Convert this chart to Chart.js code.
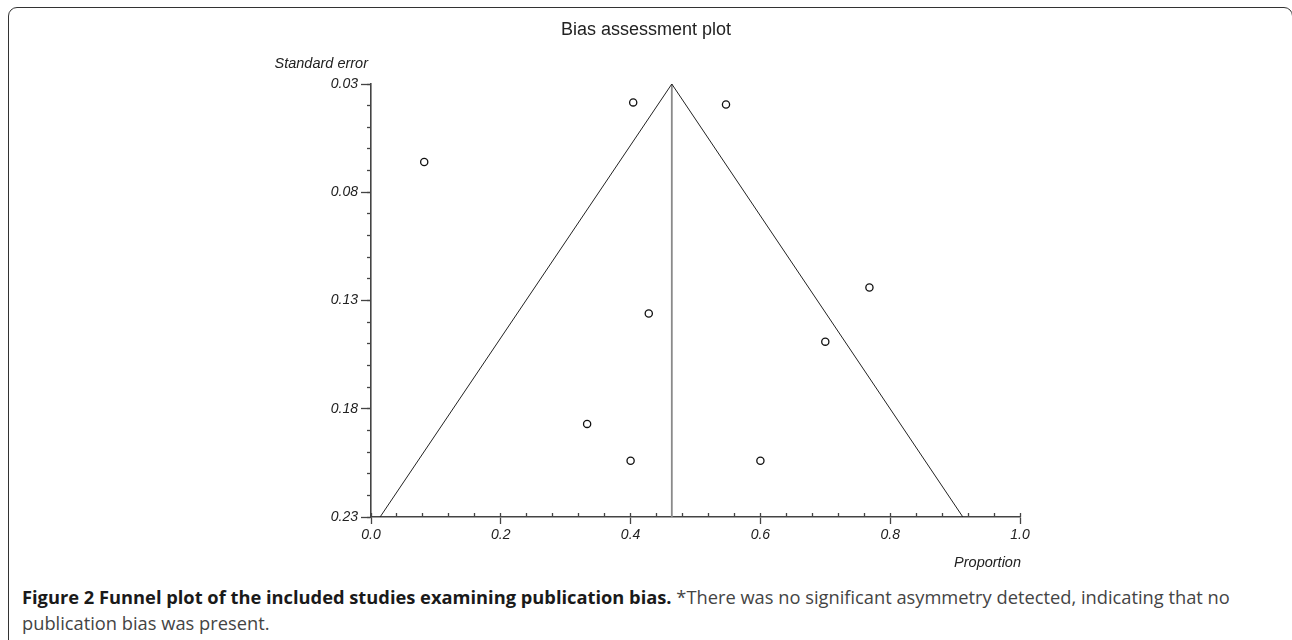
<!DOCTYPE html>
<html>
<head>
<meta charset="utf-8">
<script src="https://cdn.jsdelivr.net/npm/chart.js@4.4.1/dist/chart.umd.min.js"></script>
<style>
  html, body { margin: 0; padding: 0; background: #fff; }
  body { width: 1292px; height: 640px; position: relative; overflow: hidden; }
  #frame { position: absolute; left: 8px; top: 7px; width: 1285px; height: 700px;
           border: 1.5px solid #333; border-radius: 9px; box-sizing: border-box; }
  #wrap { position: absolute; left: 0; top: 0; width: 1292px; height: 580px; }
  .axt { position: absolute; font-family: "Liberation Sans", Arial, sans-serif; font-style: italic;
         font-size: 14.5px; color: #222; white-space: nowrap; }
  #ytitle { right: calc(1292px - 368px); top: 55px; }
  #xtitle { right: calc(1292px - 1021px); top: 554px; }
  #caption { position: absolute; left: 22px; top: 584px; font-family: "Open Sans", "Noto Sans", sans-serif;
             font-size: 18.3px; line-height: 26px; color: #444; white-space: nowrap; }
  #caption b { color: #1a1a1a; font-weight: 700; }
</style>
</head>
<body>
<div id="frame"></div>
<div id="wrap"><canvas id="c" width="1292" height="580"></canvas></div>
<div class="axt" id="ytitle">Standard error</div>
<div class="axt" id="xtitle">Proportion</div>
<div id="caption"><b>Figure 2 Funnel plot of the included studies examining publication bias.</b> *There was no significant asymmetry detected, indicating that no<br>publication bias was present.</div>
<script>
// ---- data ----
const studyProportion = [0.082, 0.404, 0.547, 0.768, 0.428, 0.700, 0.333, 0.400, 0.600];
const studyStdError   = [0.066, 0.0385, 0.0395, 0.124, 0.136, 0.149, 0.187, 0.204, 0.204];
const pooledProportion = 0.4635;
const funnelX = [0.014, 0.4635, 0.912];
const funnelY = [0.23, 0.03, 0.23];
const yMajorTicks = [0.03, 0.08, 0.13, 0.18, 0.23];
const xMajorTicks = [0.0, 0.2, 0.4, 0.6, 0.8, 1.0];
const yMinorStep = 0.01;
const xMinorStep = 0.04;

const yMinorTicks = [];
for (let i = 0; i <= 20; i++) yMinorTicks.push(+(0.03 + i * yMinorStep).toFixed(3));
const xMinorTicks = [];
for (let i = 0; i <= 25; i++) xMinorTicks.push(+(i * xMinorStep).toFixed(3));

const axisColor = '#444';
const tickFont = { family: '"Liberation Sans", Arial, sans-serif', size: 14, style: 'italic' };

const ctx = document.getElementById('c');
new Chart(ctx, {
  type: 'scatter',
  data: {
    datasets: [
      {
        label: 'Funnel',
        data: funnelX.map((x, i) => ({ x: x, y: funnelY[i] })),
        showLine: true, borderColor: '#222', borderWidth: 1, pointRadius: 0,
        fill: false, tension: 0, xAxisID: 'x', yAxisID: 'y', order: 2
      },
      {
        label: 'Pooled',
        data: [{ x: pooledProportion, y: 0.03 }, { x: pooledProportion, y: 0.23 }],
        showLine: true, borderColor: '#8a8a8a', borderWidth: 1.8, pointRadius: 0,
        fill: false, xAxisID: 'x', yAxisID: 'y', order: 3
      },
      {
        label: 'Studies',
        data: studyProportion.map((x, i) => ({ x: x, y: studyStdError[i] })),
        pointRadius: 3.6, pointBorderWidth: 1.3, pointBorderColor: '#111',
        pointBackgroundColor: '#fff', pointStyle: 'circle', showLine: false,
        xAxisID: 'x', yAxisID: 'y', order: 1
      }
    ]
  },
  options: {
    responsive: false,
    animation: false,
    layout: { padding: { left: 0, right: 0, top: 0, bottom: 33 } },
    plugins: {
      legend: { display: false },
      tooltip: { enabled: false },
      title: {
        display: true, text: 'Bias assessment plot', color: '#222',
        font: { family: '"Liberation Sans", Arial, sans-serif', size: 18, weight: 'normal', lineHeight: 1.2 },
        padding: { top: 19, bottom: 43.4 }
      }
    },
    scales: {
      y: {
        axis: 'y', type: 'linear', position: 'left', reverse: true, min: 0.03, max: 0.23, weight: 1,
        afterBuildTicks: s => { s.ticks = yMajorTicks.map(v => ({ value: v })); },
        afterFit: s => { s.width = 371; },
        ticks: { font: tickFont, color: '#222', padding: 3, callback: v => Number(v).toFixed(2) },
        grid: { drawOnChartArea: false, drawTicks: true, tickLength: 10, tickColor: axisColor, tickWidth: 1.3 },
        border: { display: true, color: axisColor, width: 1.6 }
      },
      yMinor: {
        axis: 'y', type: 'linear', position: 'left', reverse: true, min: 0.03, max: 0.23, weight: 0,
        afterBuildTicks: s => { s.ticks = yMinorTicks.map(v => ({ value: v })); },
        afterFit: s => { s.width = 0; },
        ticks: { display: false },
        grid: { drawOnChartArea: false, drawTicks: true, tickLength: 4, tickColor: axisColor, tickWidth: 1.3 },
        border: { display: false }
      },
      yRightSpace: {
        axis: 'y', type: 'linear', position: 'right', min: 0.03, max: 0.23,
        afterFit: s => { s.width = 272; },
        ticks: { display: false },
        grid: { display: false, drawTicks: false },
        border: { display: false }
      },
      x: {
        axis: 'x', type: 'linear', position: 'bottom', min: 0, max: 1, weight: 1,
        afterBuildTicks: s => { s.ticks = xMajorTicks.map(v => ({ value: v })); },
        afterFit: s => { s.height = 30; },
        ticks: { font: tickFont, color: '#222', padding: 3, maxRotation: 0, callback: v => Number(v).toFixed(1) },
        grid: { drawOnChartArea: false, drawTicks: true, tickLength: 7, tickColor: axisColor, tickWidth: 1.3 },
        border: { display: true, color: axisColor, width: 1.6 }
      },
      xMinor: {
        axis: 'x', type: 'linear', position: 'bottom', min: 0, max: 1, weight: 0,
        afterBuildTicks: s => { s.ticks = xMinorTicks.map(v => ({ value: v })); },
        afterFit: s => { s.height = 0; },
        ticks: { display: false },
        grid: { drawOnChartArea: false, drawTicks: true, tickLength: -4, tickColor: axisColor, tickWidth: 1.3 },
        border: { display: false }
      }
    }
  }
});
</script>
</body>
</html>
